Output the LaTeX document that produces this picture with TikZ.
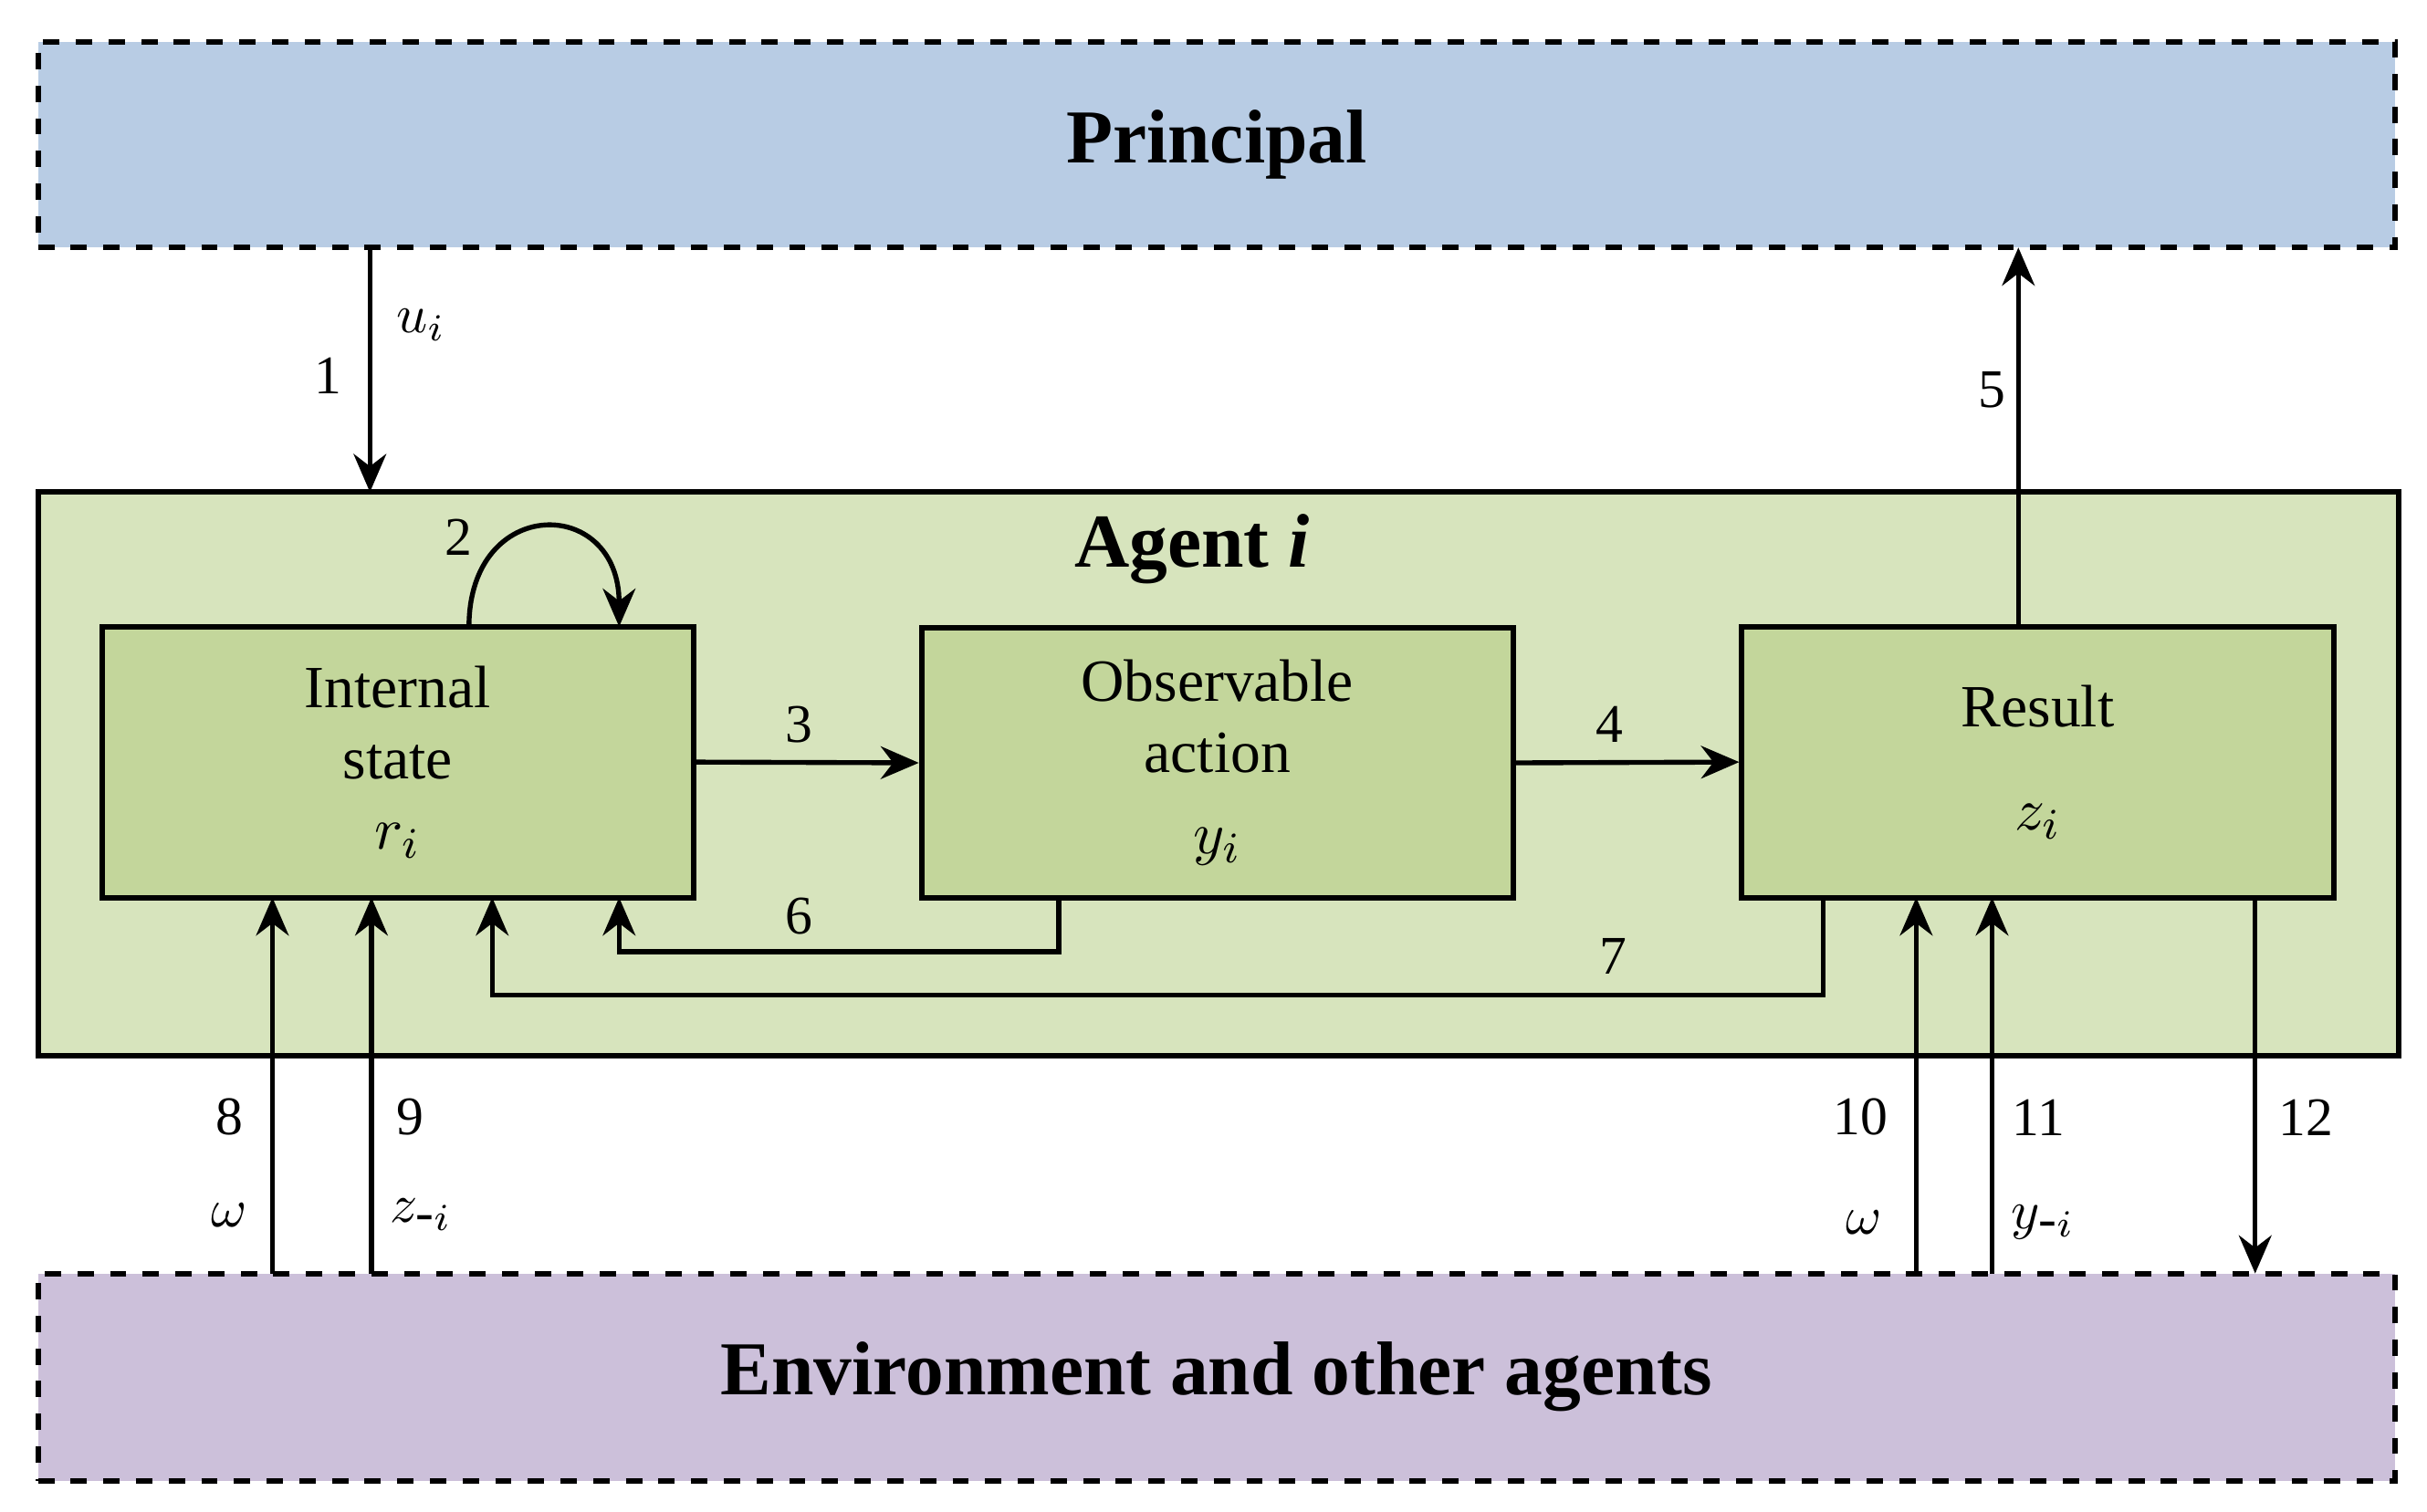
\documentclass[tikz,border=0pt]{standalone}
\usepackage{fontspec}
\setmainfont{Liberation Serif}
\usetikzlibrary{arrows.meta}
\definecolor{pblue}{HTML}{B8CCE4}
\definecolor{agreen}{HTML}{D7E4BD}
\definecolor{bgreen}{HTML}{C3D69B}
\definecolor{epurp}{HTML}{CCC0DA}
\begin{document}
\begin{tikzpicture}[x=0.01cm,y=-0.01cm,
  box/.style={draw,line width=1pt,fill=bgreen,minimum width=3.82cm,minimum height=1.75cm,align=center,font=\fontsize{11}{13}\selectfont,inner sep=0pt},
  arr/.style={line width=0.9pt,-{Stealth[length=7pt,width=6pt]}},
  lab/.style={font=\fontsize{10}{12}\selectfont,inner sep=0pt}]
\useasboundingbox (0,0) rectangle (1568,977);
\node[draw,dashed,line width=1pt,fill=pblue,minimum width=15.22cm,minimum height=1.33cm,inner sep=0pt,font=\fontsize{14}{16}\selectfont\bfseries] (P) at (786,93.5) {Principal};
\node[draw,line width=1pt,fill=agreen,minimum width=15.24cm,minimum height=3.64cm,inner sep=0pt] (A) at (787,500) {};
\node[font=\fontsize{14}{16}\selectfont\bfseries] (At) at (770,355) {Agent \textit{i}};
\node[draw,dashed,line width=1pt,fill=epurp,minimum width=15.22cm,minimum height=1.34cm,inner sep=0pt,font=\fontsize{14}{16}\selectfont\bfseries] (E) at (786,890) {Environment and other agents};
\node[box] (I) at (257,492.5) {Internal\\state\\$r_i$};
\node[box] (O) at (786.5,493) {Observable\\action\\[2pt]$y_i$};
\node[box] (R) at (1316.5,492.5) {Result\\[6pt]$z_i$};
% 1
\coordinate (a1) at (239,160); \coordinate (b1) at (239,318);
\draw[arr] (a1) -- (b1);
\node[lab] (l1) at (212,243) {1}; \node[lab] (u1) at (272,210) {$u_i$};
% 2
\coordinate (a2) at (303,405); \coordinate (b2) at (400,405);
\draw[arr] (a2) .. controls (303,320) and (400,320) .. (b2);
\node[lab] (l2) at (296,347) {2};
% 3,4
\draw[arr] (I.east) -- (O.west); \node[lab] (l3) at (516,468) {3};
\draw[arr] (O.east) -- (R.west); \node[lab] (l4) at (1040,468) {4};
% 5
\coordinate (a5) at (1304,405); \coordinate (b5) at (1304,160);
\draw[arr] (a5) -- (b5); \node[lab] (l5) at (1287,252) {5};
% 6
\coordinate (a6) at (684,581); \coordinate (b6) at (400,580);
\draw[arr] (a6) -- (684,615) -- (400,615) -- (b6); \node[lab] (l6) at (516,592) {6};
% 7
\coordinate (a7) at (1178,580); \coordinate (b7) at (318,580);
\draw[arr] (a7) -- (1178,643) -- (318,643) -- (b7); \node[lab] (l7) at (1042,618) {7};
% 8-12
\coordinate (e8) at (176,823); \coordinate (i8) at (176,580);
\draw[arr] (e8) -- (i8); \node[lab] (l8) at (148,722) {8}; \node[lab] (w8) at (148,785) {$\omega$};
\coordinate (e9) at (240,823); \coordinate (i9) at (240,580);
\draw[arr] (e9) -- (i9); \node[lab] (l9) at (265,722) {9}; \node[lab] (z9) at (272,785) {$z_{\mbox{-}i}$};
\coordinate (e10) at (1238,823); \coordinate (i10) at (1238,580);
\draw[arr] (e10) -- (i10); \node[lab] (l10) at (1202,722) {10}; \node[lab] (w10) at (1204,790) {$\omega$};
\coordinate (e11) at (1287,823); \coordinate (i11) at (1287,580);
\draw[arr] (e11) -- (i11); \node[lab] (l11) at (1317,722) {11}; \node[lab] (y11) at (1320,790) {$y_{\mbox{-}i}$};
\coordinate (e12) at (1457,580); \coordinate (i12) at (1457,823);
\draw[arr] (e12) -- (i12); \node[lab] (l12) at (1490,722) {12};
\end{tikzpicture}
\end{document}
